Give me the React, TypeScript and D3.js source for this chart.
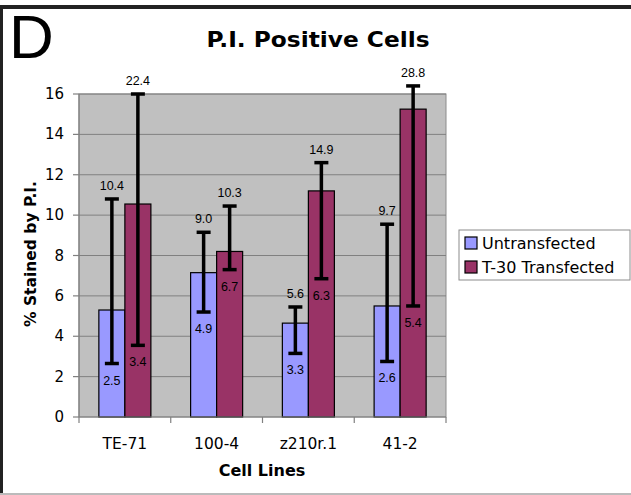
import React from "react";
import * as d3 from "d3";

const categories = ["TE-71", "100-4", "z210r.1", "41-2"];
const seriesNames = ["Untransfected", "T-30 Transfected"];
const untransfected = [5.3, 7.15, 4.65, 5.5];
const transfected = [10.55, 8.2, 11.2, 15.25];
const untransLow = [2.65, 5.2, 3.15, 2.75];
const untransHigh = [10.8, 9.15, 5.45, 9.55];
const transLow = [3.55, 7.3, 6.85, 5.5];
const transHigh = [16.0, 10.45, 12.6, 16.4];
const untransLowLabels = ["2.5", "4.9", "3.3", "2.6"];
const untransHighLabels = ["10.4", "9.0", "5.6", "9.7"];
const transLowLabels = ["3.4", "6.7", "6.3", "5.4"];
const transHighLabels = ["22.4", "10.3", "14.9", "28.8"];
const yTicks = [0, 2, 4, 6, 8, 10, 12, 14, 16];
const colors = ["#9999FF", "#993366"];

const W = 631;
const H = 495;
const plotLeft = 79;
const plotRight = 446;
const plotTop = 94;
const plotBottom = 417;

export default function App() {
  const x0 = d3.scaleBand<string>().domain(categories).range([plotLeft, plotRight]).padding(0);
  const groupW = x0.bandwidth() * 0.567;
  const x1 = d3.scaleBand<string>().domain(seriesNames).range([0, groupW]).padding(0);
  const y = d3.scaleLinear().domain([0, 16]).range([plotBottom, plotTop]);

  const series = [
    { name: seriesNames[0], values: untransfected, low: untransLow, high: untransHigh, lowL: untransLowLabels, highL: untransHighLabels, color: colors[0] },
    { name: seriesNames[1], values: transfected, low: transLow, high: transHigh, lowL: transLowLabels, highL: transHighLabels, color: colors[1] },
  ];

  const barX = (ci: number, s: string) =>
    (x0(categories[ci]) as number) + (x0.bandwidth() - groupW) / 2 + (x1(s) as number);
  const bw = x1.bandwidth();

  const sans = "'Liberation Sans', Arial, sans-serif";
  const verd = "'DejaVu Sans', Verdana, sans-serif";

  return (
    <svg width={W} height={H} style={{ position: "absolute", left: 0, top: 0, background: "#fff" }}>
      {/* frame */}
      <rect x={0} y={5} width={W} height={4} fill="#222" />
      <rect x={0} y={5} width={3} height={H - 5} fill="#222" />
      <rect x={0} y={493} width={W} height={2} fill="#bbb" />

      {/* panel letter */}
      <text x={9} y={58} fontFamily={sans} fontSize={62} fill="#000">D</text>

      {/* title */}
      <text x={318} y={47} textAnchor="middle" fontFamily={verd} fontWeight="bold" fontSize={20.5} textLength={223} lengthAdjust="spacingAndGlyphs">P.I. Positive Cells</text>

      {/* plot area */}
      <rect x={plotLeft} y={plotTop} width={plotRight - plotLeft} height={plotBottom - plotTop} fill="#C0C0C0" stroke="#8c8c8c" strokeWidth={1} />
      {yTicks.filter((t) => t > 0).map((t) => (
        <line key={"g" + t} x1={plotLeft} x2={plotRight} y1={y(t)} y2={y(t)} stroke="#808080" strokeWidth={1} />
      ))}

      {/* bars */}
      {series.map((s) =>
        s.values.map((v, i) => (
          <rect key={s.name + i} x={barX(i, s.name)} y={y(v)} width={bw} height={y(0) - y(v)} fill={s.color} stroke="#000" strokeWidth={1.2} />
        ))
      )}

      {/* error bars */}
      {series.map((s) =>
        s.values.map((v, i) => {
          const cx = barX(i, s.name) + bw / 2;
          return (
            <g key={"e" + s.name + i} stroke="#000" strokeWidth={3.5}>
              <line x1={cx} x2={cx} y1={y(s.low[i])} y2={y(s.high[i])} />
              <line x1={cx - 7} x2={cx + 7} y1={y(s.low[i])} y2={y(s.low[i])} />
              <line x1={cx - 7} x2={cx + 7} y1={y(s.high[i])} y2={y(s.high[i])} />
            </g>
          );
        })
      )}

      {/* value labels */}
      {series.map((s) =>
        s.values.map((v, i) => {
          const cx = barX(i, s.name) + bw / 2;
          return (
            <g key={"l" + s.name + i} fontFamily={sans} fontSize={12.5} fill="#000" textAnchor="middle">
              <text x={cx} y={y(s.high[i]) - 9}>{s.highL[i]}</text>
              <text x={cx} y={y(s.low[i]) + 21}>{s.lowL[i]}</text>
            </g>
          );
        })
      )}

      {/* axes */}
      <line x1={plotLeft} x2={plotLeft} y1={plotTop} y2={plotBottom} stroke="#808080" strokeWidth={1.2} />
      <line x1={plotLeft} x2={plotRight} y1={plotBottom} y2={plotBottom} stroke="#808080" strokeWidth={1.2} />
      {yTicks.map((t) => (
        <g key={"y" + t}>
          <line x1={plotLeft - 6} x2={plotLeft} y1={y(t)} y2={y(t)} stroke="#808080" strokeWidth={1.2} />
          <text x={64} y={y(t) + 5} textAnchor="end" fontFamily={verd} fontSize={15} fill="#000">{t}</text>
        </g>
      ))}
      {categories.map((c, i) => (
        <line key={"xt" + i} x1={x0(c) as number} x2={x0(c) as number} y1={plotBottom} y2={plotBottom + 6} stroke="#808080" strokeWidth={1.2} />
      ))}
      <line x1={plotRight} x2={plotRight} y1={plotBottom} y2={plotBottom + 6} stroke="#808080" strokeWidth={1.2} />
      {categories.map((c) => (
        <text key={"xl" + c} x={(x0(c) as number) + x0.bandwidth() / 2} y={449} textAnchor="middle" fontFamily={verd} fontSize={15.5} fill="#000">{c}</text>
      ))}

      {/* axis titles */}
      <text x={262} y={476} textAnchor="middle" fontFamily={verd} fontWeight="bold" fontSize={16}>Cell Lines</text>
      <text transform="translate(36,254) rotate(-90)" textAnchor="middle" fontFamily={verd} fontWeight="bold" fontSize={15.5}>% Stained by P.I.</text>

      {/* legend */}
      <rect x={459} y={230} width={171} height={50} fill="#fff" stroke="#8c8c8c" strokeWidth={1} />
      {seriesNames.map((n, i) => (
        <g key={"lg" + n}>
          <rect x={465} y={237 + i * 24} width={12} height={12} fill={colors[i]} stroke="#000" strokeWidth={1.2} />
          <text x={482} y={249 + i * 24} fontFamily={verd} fontSize={16} fill="#000">{n}</text>
        </g>
      ))}
    </svg>
  );
}
